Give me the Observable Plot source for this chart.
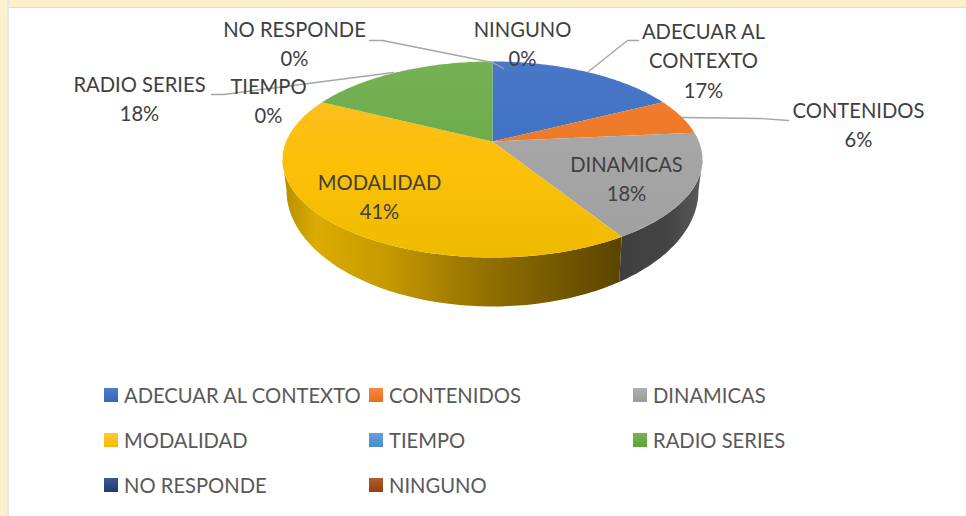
<!DOCTYPE html>
<html><head><meta charset="utf-8">
<script src="https://cdn.jsdelivr.net/npm/d3@7"></script>
<script src="https://cdn.jsdelivr.net/npm/@observablehq/plot@0.6"></script>
<style>
html,body{margin:0;padding:0;background:#fff;width:966px;height:516px;overflow:hidden}
#frame{position:absolute;left:0;top:0;width:966px;height:7px;background:#fff0cc;border-bottom:1px solid #e4dcc8}
#frameL{position:absolute;left:0;top:0;width:7px;height:516px;background:#fff0cc;border-right:2px solid #e6e6ee}
#chart{position:absolute;left:0;top:0}
#chart svg{background:transparent;display:block}
#legend{position:absolute;left:104px;top:372px;display:grid;grid-template-columns:265px 264px 264px;grid-auto-rows:45px;font:20.2px Lato,sans-serif;color:#595959}
#legend div{display:flex;align-items:center;white-space:nowrap}
#legend i{display:inline-block;width:14px;height:14px;margin-right:6px;flex:none}
</style></head><body>
<div id="frame"></div><div id="frameL"></div>
<div id="chart"></div><div id="legend"></div>
<script>
const categories = ["ADECUAR AL CONTEXTO","CONTENIDOS","DINAMICAS","MODALIDAD","TIEMPO","RADIO SERIES","NO RESPONDE","NINGUNO"];
const shares = [17.6,5.9,17.6,41.2,0,17.6,0,0];
const percentLabels = ["17%","6%","18%","41%","0%","18%","0%","0%"];
const swatchTop = ["#4f7ccb","#f48a42","#b0b0b0","#ffc92e","#659fd8","#77b355","#3a5a94","#ab5f30"];
const swatchBottom = ["#3366bb","#ec6c18","#9a9a9a","#f4bc00","#4a8ccc","#5ea53a","#1f3a70","#963f06"];
const faceTop = ["#4a78c8","#f08030","#ababab","#fcbd2c","#5b9bd5","#76b255","#264478","#9e480e"];
const faceMid = ["#3f70c2","#ee7726","#a5a5a5","#fdc008","#5b9bd5","#6aaa48","#264478","#9e480e"];
const faceBottom = ["#3468bb","#ec6f1c","#a0a0a0","#eebb00","#5b9bd5","#5fa33c","#264478","#9e480e"];

// projection parameters of the tilted pie
const K = 0.1837, depthCy = -0.517, depthRy = 1.225, shrink = 0.981;
const project = t => { const u = Math.sin(t), v = Math.cos(t), d = 1 + K * v; return {x: u / d, y: v / d}; };
const rad = Math.PI / 180, xMax = 1 / Math.sqrt(1 - K * K);
const total = d3.sum(shares);
let acc = 0;
const slices = categories.map((name, i) => { const a0 = acc / total * 360; acc += shares[i]; return {name, i, a0, a1: acc / total * 360}; });

function slicePoly(s) {
  const pts = [{x: 0, y: 0}];
  for (let a = s.a0; a < s.a1; a += 1) pts.push(project(a * rad));
  pts.push(project(s.a1 * rad), {x: 0, y: 0});
  return pts;
}
const edge = Math.acos(-K) / rad; // where the rim turns into the silhouette
function wallPoly(a0, a1) {
  const top = [];
  for (let a = a0; a < a1; a += 1) top.push(project(a * rad));
  top.push(project(a1 * rad));
  const bot = top.map(p => {
    const r = Math.min(1, Math.abs(p.x) / xMax);
    return {x: p.x * shrink, y: depthCy - depthRy * Math.sqrt(1 - r * r)};
  });
  return top.concat(bot.reverse());
}
const wallGrey = wallPoly(edge, slices[2].a1);
const wallYellow = wallPoly(slices[3].a0, 360 - edge);

// label layout
const labelLayout = [
  {c:0, lines:["ADECUAR AL","CONTEXTO"], x:703, y:32},
  {c:1, lines:["CONTENIDOS"], x:858, y:111},
  {c:2, lines:["DINAMICAS"], x:626, y:165},
  {c:3, lines:["MODALIDAD"], x:379, y:183},
  {c:4, lines:["TIEMPO"], x:268, y:87},
  {c:5, lines:["RADIO SERIES"], x:139, y:85},
  {c:6, lines:["NO RESPONDE"], x:294, y:30},
  {c:7, lines:["NINGUNO"], x:522, y:30}
];
const labelRows = labelLayout.flatMap(l => [...l.lines, percentLabels[l.c]].map((t, j) => ({t, x: l.x, y: l.y + j * 29.5})));
const leaders = [
  [[638,40],[627,40],[588,71]],
  [[788,120],[760,118],[682,117]],
  [[369,40],[382,40],[492,62],[503,68]],
  [[211,94],[223,94],[393,72]]
].flatMap((l, z) => l.map(([x, y]) => ({x, y, z})));

const CX = 492, CY = 141, RX = 206.4, RY = 94.7;
const W = 966, H = 370;
const defs = () => {
  const d = d3.create("svg:defs");
  const grad = (id, x1, y1, x2, y2, stops) => {
    const g = d.append("linearGradient").attr("id", id).attr("gradientUnits", "userSpaceOnUse")
      .attr("x1", x1).attr("y1", y1).attr("x2", x2).attr("y2", y2);
    stops.forEach(([o, c]) => g.append("stop").attr("offset", o).attr("stop-color", c));
  };
  slices.forEach((s, i) => grad("face" + i, 0, 61, 0, 258, [[0, faceTop[i]], [0.5, faceMid[i]], [1, faceBottom[i]]]));
  grad("wallY", 282, 0, 620, 0, [[0, "#b48e00"], [0.1, "#dcac00"], [0.3, "#c79a00"], [0.6, "#937000"], [1, "#5a4400"]]);
  grad("wallG", 617, 0, 700, 0, [[0, "#3f3f3f"], [0.6, "#444444"], [1, "#585858"]]);
  return d.node();
};

const plot = Plot.plot({
  width: W, height: H, margin: 0, axis: null,
  style: {background: "transparent", overflow: "visible"},
  x: {type: "linear", domain: [-1, 1], range: [CX - RX, CX + RX]},
  y: {type: "linear", domain: [-1, 1], range: [CY + RY, CY - RY]},
  marks: [
    defs,
    Plot.line(wallGrey, {x: "x", y: "y", fill: "url(#wallG)", stroke: "none", curve: "linear"}),
    Plot.line(wallYellow, {x: "x", y: "y", fill: "url(#wallY)", stroke: "none", curve: "linear"}),
    ...slices.filter(s => s.a1 > s.a0).map(s =>
      Plot.line(slicePoly(s), {x: "x", y: "y", fill: `url(#face${s.i})`, stroke: "none", curve: "linear"})),
    Plot.line(leaders, {x: d => (d.x - CX) / RX, y: d => (CY - d.y) / RY, z: "z", stroke: "#a6a6a6", strokeWidth: 1.4, curve: "linear"}),
    Plot.text(labelRows, {x: d => (d.x - CX) / RX, y: d => (CY - d.y) / RY, text: "t", fill: "#404040",
      fontSize: 20.2, fontFamily: "Lato, sans-serif", textAnchor: "middle", lineAnchor: "middle"})
  ]
});
document.getElementById("chart").append(plot);

const legendEl = document.getElementById("legend");
categories.forEach((name, i) => {
  const row = document.createElement("div");
  const sw = document.createElement("i");
  sw.style.background = `linear-gradient(${swatchTop[i]},${swatchBottom[i]})`;
  row.append(sw, name);
  legendEl.append(row);
});
</script>
</body></html>
